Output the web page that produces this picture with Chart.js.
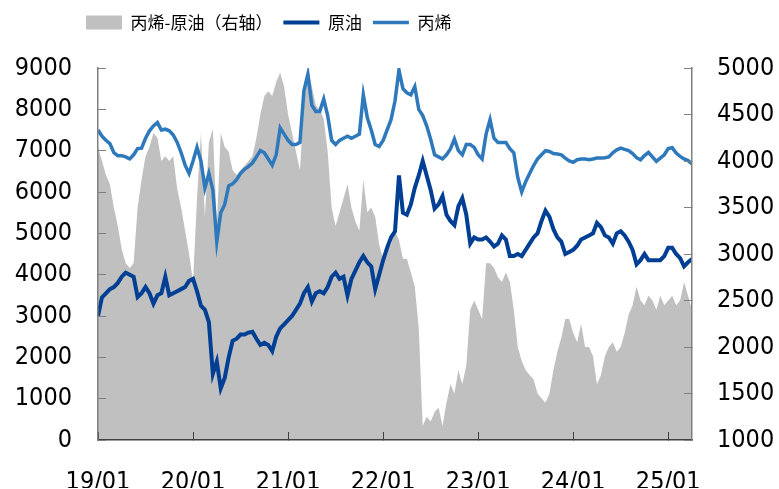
<!DOCTYPE html>
<html>
<head>
<meta charset="utf-8">
<script src="https://cdn.jsdelivr.net/npm/chart.js@4.4.1/dist/chart.umd.min.js"></script>
<style>
  body { margin: 0; background: #fff; }
  #chart { display: block; }
</style>
</head>
<body>
<canvas id="chart" width="779" height="489"></canvas>
<script>
// semi-monthly points, 2019-01-01 .. 2025-04-01
const dates = [];
for (let y = 2019; y <= 2025; y++) {
  for (let m = 1; m <= 12; m++) {
    if (y === 2025 && m > 4) break;
    dates.push(`${y}-${String(m).padStart(2, '0')}-01`);
    if (!(y === 2025 && m === 4)) dates.push(`${y}-${String(m).padStart(2, '0')}-16`);
  }
}

const yearTicks = ['19/01', '20/01', '21/01', '22/01', '23/01', '24/01', '25/01'];

// 丙烯 (left axis)
const propylene = [
  7500, 7350, 7250, 7170, 6950, 6880, 6880, 6850, 6800, 6900, 7050, 7060, 7300, 7480, 7600, 7680, 7500, 7520, 7480, 7380, 7200, 6950, 6650, 6450,
  6750, 7080, 6750, 6100, 6450, 6050, 4800, 5500, 5700, 6150, 6200, 6300, 6450, 6550, 6620, 6700, 6850, 7000, 6950, 6800, 6650, 6900, 7550, 7400,
  7250, 7150, 7150, 7200, 8450, 8850, 8100, 7950, 7950, 8250, 7850, 7250, 7150, 7250, 7300, 7350, 7300, 7350, 7400, 8350, 7800, 7500, 7150, 7100,
  7250, 7500, 7750, 8200, 8950, 8500, 8400, 8350, 8550, 8000, 7850, 7600, 7280, 6900, 6850, 6800, 6900, 7040, 7280, 7000, 6900, 7150, 7150, 7080,
  6900, 6800, 7400, 7750, 7300, 7200, 7200, 7200, 7050, 6950, 6350, 6000, 6250, 6450, 6640, 6800, 6900, 7000, 6980, 6930, 6920, 6900, 6820, 6750,
  6720, 6780, 6800, 6800, 6780, 6800, 6820, 6820, 6830, 6850, 6950, 7020, 7060, 7030, 7000, 6930, 6830, 6780, 6880, 6960, 6850, 6740, 6820, 6900,
  7050, 7070, 6940, 6860, 6800, 6760, 6680
];

// 原油 (left axis)
const crude = [
  3000, 3450, 3550, 3650, 3700, 3800, 3950, 4050, 4000, 3950, 3460, 3550, 3700, 3550, 3300, 3500, 3550, 3950, 3500, 3550, 3600, 3650, 3700, 3850,
  3900, 3600, 3250, 3150, 2850, 1600, 1900, 1250, 1500, 2000, 2400, 2450, 2550, 2550, 2600, 2620, 2450, 2300, 2350, 2300, 2150, 2500, 2700, 2800,
  2900, 3000, 3150, 3300, 3550, 3700, 3350, 3550, 3600, 3550, 3700, 3950, 4050, 3900, 3950, 3500, 3900, 4100, 4300, 4450, 4300, 4200, 3650, 4000,
  4350, 4650, 4900, 5050, 6400, 5500, 5450, 5700, 6100, 6400, 6750, 6400, 6050, 5600, 5700, 5900, 5450, 5300, 5200, 5650, 5850, 5450, 4750, 4900,
  4850, 4850, 4900, 4800, 4680, 4750, 4950, 4850, 4450, 4450, 4500, 4450, 4600, 4750, 4900, 5000, 5300, 5550, 5400, 5100, 4900, 4800, 4500, 4550,
  4600, 4700, 4850, 4900, 4950, 5000, 5250, 5150, 4950, 4900, 4750, 5000, 5050, 4950, 4800, 4600, 4250, 4350, 4500, 4350, 4350, 4350, 4350, 4450,
  4650, 4650, 4500, 4400, 4200, 4300, 4380
];

// 丙烯-原油 (right axis)
const spread = [
  4150, 4000, 3850, 3750, 3500, 3300, 3050, 2900, 2850, 2900, 3500, 3800, 4050, 4150, 4300, 4250, 4000, 4050, 4000, 4050, 3700, 3500, 3250, 3000,
  2700, 3600, 4300, 3400, 4200, 4350, 3300, 4300, 4150, 4100, 3900, 3850, 3900, 3950, 4000, 4050, 4250, 4500, 4700, 4750, 4700, 4850, 4950, 4800,
  4500, 4300, 4100, 3900, 4600, 5000, 4800, 4600, 4550, 4450, 4100, 3500, 3300, 3450, 3600, 3750, 3500, 3350, 3250, 3800, 3450, 3500, 3400, 3100,
  2950, 3050, 3100, 3250, 3150, 2950, 2950, 2800, 2650, 2200, 1150, 1250, 1200, 1300, 1350, 1150, 1400, 1600, 1500, 1750, 1600, 1800, 2400, 2500,
  2400, 2300, 2900, 2900, 2850, 2750, 2700, 2800, 2700, 2400, 2000, 1850, 1750, 1700, 1650, 1500, 1450, 1400, 1500, 1750, 1950, 2100, 2300, 2300,
  2150, 2050, 2250, 2000, 2000, 1900, 1600, 1700, 1900, 2000, 2050, 1950, 2000, 2150, 2350, 2450, 2650, 2500, 2450, 2550, 2500, 2400, 2550, 2450,
  2500, 2550, 2450, 2500, 2700, 2550, 2400
];

// months since 2019-01
function monthPos(d) {
  const [y, m, day] = d.split('-').map(Number);
  return (y - 2019) * 12 + (m - 1) + (day - 1) / 30;
}
const xs = dates.map(monthPos);
const pts = arr => arr.map((v, i) => ({ x: xs[i], y: v }));

const tickFont = { family: "'DejaVu Sans Condensed', 'DejaVu Sans', sans-serif", size: 25 };

// legend: extra space below it, and moved left like the original
const legendTweak = {
  id: 'legendTweak',
  beforeInit(chart) {
    const fit = chart.legend.fit;
    chart.legend.fit = function () {
      fit.bind(chart.legend)();
      this.height += 27;
    };
  },
  afterLayout(chart) {
    chart.legend.left = 75;
  }
};

new Chart(document.getElementById('chart'), {
  type: 'line',
  data: {
    datasets: [
      {
        label: '丙烯-原油（右轴）',
        data: pts(spread),
        yAxisID: 'y2',
        fill: 'start',
        backgroundColor: '#c0c0c0',
        borderWidth: 0,
        pointRadius: 0,
        pointStyle: 'rect',
        order: 10
      },
      {
        label: '原油',
        data: pts(crude),
        yAxisID: 'y',
        borderColor: '#003f94',
        backgroundColor: '#003f94',
        borderWidth: 4,
        pointRadius: 0,
        pointStyle: 'line',
        order: 1
      },
      {
        label: '丙烯',
        data: pts(propylene),
        yAxisID: 'y',
        borderColor: '#2e78bc',
        backgroundColor: '#2e78bc',
        borderWidth: 3.5,
        pointRadius: 0,
        pointStyle: 'line',
        order: 2
      }
    ]
  },
  plugins: [legendTweak],
  options: {
    responsive: false,
    animation: false,
    devicePixelRatio: 1,
    layout: { padding: { top: 3, right: 0, left: 0, bottom: 0 } },
    plugins: {
      tooltip: { enabled: false },
      legend: {
        position: 'top',
        align: 'start',
        labels: {
          usePointStyle: true,
          pointStyleWidth: 36,
          boxHeight: 14,
          padding: 11,
          color: '#000',
          font: { family: "'Noto Sans CJK SC', sans-serif", size: 17 },
          sort: (a, b) => a.datasetIndex - b.datasetIndex
        }
      }
    },
    scales: {
      x: {
        type: 'linear',
        position: 'bottom',
        min: 0,
        max: 75,
        afterBuildTicks: s => { s.ticks = yearTicks.map((t, i) => ({ value: i * 12 })); },
        afterFit: s => { s.height = 48; },
        ticks: {
          callback: (v) => yearTicks[Math.round(v / 12)],
          color: '#000',
          font: tickFont,
          padding: 35,
          maxRotation: 0,
          autoSkip: false
        },
        grid: { drawOnChartArea: false, tickLength: -8, color: '#404040', z: 1 },
        border: { color: '#404040', width: 1.5, z: 1 }
      },
      y: {
        position: 'left',
        min: 0,
        max: 9000,
        afterFit: s => { s.width = 98; },
        ticks: { stepSize: 1000, color: '#000', font: tickFont, padding: 34, callback: v => String(v) },
        grid: { drawOnChartArea: false, tickLength: -8, color: '#808080', z: 1 },
        border: { color: '#808080', width: 1.5, z: 1 }
      },
      y2: {
        position: 'right',
        min: 1000,
        max: 5000,
        afterFit: s => { s.width = 87; },
        ticks: { stepSize: 500, color: '#000', font: tickFont, padding: 33, callback: v => String(v) },
        grid: { drawOnChartArea: false, tickLength: -8, color: '#808080', z: 1 },
        border: { color: '#808080', width: 1.5, z: 1 }
      }
    }
  }
});
</script>
</body>
</html>
